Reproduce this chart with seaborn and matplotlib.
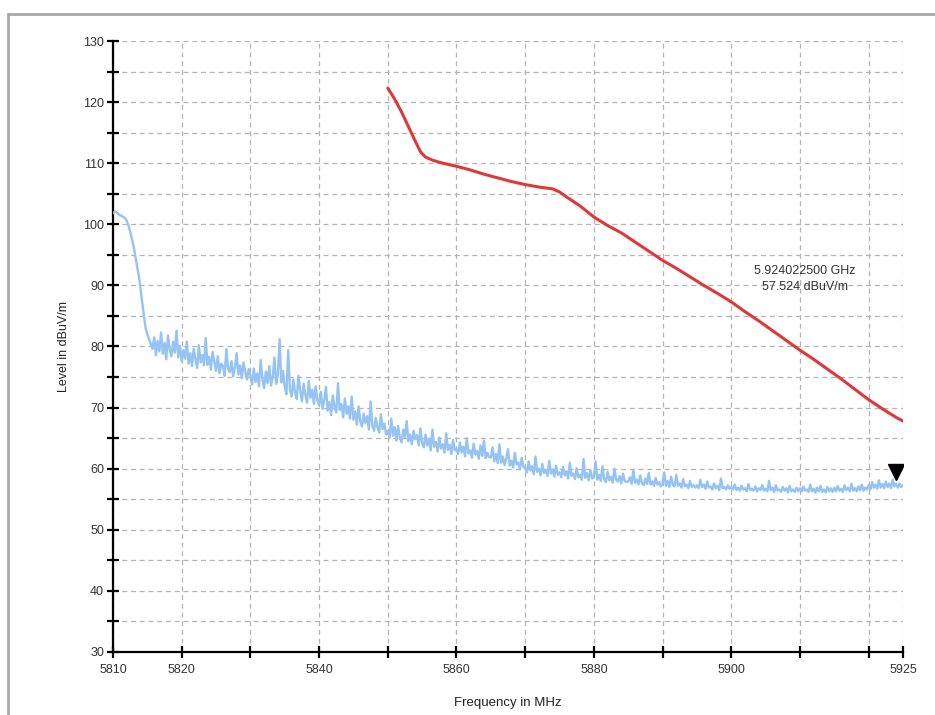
import numpy as np
import pandas as pd
import matplotlib
matplotlib.use("Agg")
import matplotlib.pyplot as plt
import seaborn as sns
from matplotlib.patches import Rectangle
from matplotlib.ticker import FixedLocator, MultipleLocator

# ---------------- data ----------------
BLUE_START_MHZ = 5810.0
BLUE_STEP_MHZ = 0.25
blue_level = [
    101.8, 102.1, 102.0, 101.7, 101.5, 101.4, 101.2, 101.0, 100.6, 99.8, 98.8, 97.6, 96.4, 94.8, 93.2, 91.6, 89.5, 87.2, 85.0, 83.0,
    82.0, 81.2, 80.4, 79.6, 81.5, 78.6, 80.9, 79.2, 82.3, 78.8, 80.6, 77.9, 81.8, 79.5, 78.4, 80.8, 79.0, 82.6, 78.2, 80.1,
    77.6, 79.4, 78.0, 80.8, 77.2, 78.9, 76.8, 79.6, 77.9, 76.5, 80.2, 77.4, 78.6, 76.9, 81.4, 77.0, 78.3, 76.2, 79.1, 77.5,
    76.0, 78.4, 75.6, 77.2, 76.8, 75.2, 79.6, 76.4, 75.8, 77.6, 75.1, 76.6, 78.9, 75.4, 76.9, 74.8, 77.4, 75.9, 74.6, 76.3,
    75.2, 73.8, 76.4, 74.2, 75.6, 73.5, 77.8, 74.6, 73.2, 75.9, 74.0, 76.8, 73.6, 74.9, 78.2, 73.9, 75.4, 81.2, 74.1, 76.0,
    73.4, 72.2, 79.4, 73.0, 71.8, 74.6, 72.5, 71.4, 75.2, 72.8, 71.0, 73.9, 72.1, 70.8, 74.4, 71.6, 72.9, 70.6, 73.5, 71.2,
    70.4, 72.6, 69.8, 71.2, 73.4, 69.5, 70.9, 68.8, 72.0, 70.1, 69.2, 74.0, 69.6, 70.6, 68.4, 71.5, 69.0, 70.2, 68.2, 71.8,
    68.0, 69.4, 67.2, 70.2, 67.8, 66.9, 69.0, 67.5, 68.6, 66.4, 71.0, 67.0, 66.2, 68.3, 66.8, 65.9, 68.9, 66.5, 67.4, 65.6,
    66.2, 65.0, 68.2, 65.4, 66.8, 64.6, 67.0, 65.1, 64.3, 66.4, 65.2, 67.8, 64.5, 65.6, 64.0, 66.2, 64.8, 65.5, 63.8, 66.6,
    64.2, 63.5, 65.6, 63.8, 64.9, 63.0, 66.4, 63.6, 64.4, 62.8, 65.1, 63.3, 64.0, 62.6, 65.8, 63.1, 63.9, 62.4, 64.7, 63.0,
    63.2, 62.4, 64.3, 62.7, 63.6, 62.0, 65.0, 62.5, 63.0, 61.8, 64.1, 62.3, 62.9, 61.6, 63.8, 62.1, 64.6, 61.7, 62.6, 61.9,
    61.8, 63.5, 61.2, 62.4, 60.9, 64.0, 61.0, 62.0, 60.6, 61.7, 63.2, 60.5, 61.3, 60.2, 62.6, 60.7, 61.0, 59.9, 61.8, 60.3,
    60.1, 59.4, 61.2, 59.7, 60.4, 59.1, 62.0, 59.5, 60.0, 58.9, 60.8, 59.3, 59.8, 58.8, 61.3, 59.2, 59.9, 58.7, 60.5, 59.0,
    59.4, 58.6, 60.3, 58.9, 59.6, 58.4, 61.0, 58.8, 59.2, 58.3, 60.1, 58.6, 59.0, 58.2, 61.6, 58.5, 59.3, 58.1, 59.8, 58.4,
    58.6, 61.2, 58.2, 59.0, 58.0, 60.4, 58.3, 57.8, 59.5, 58.1, 58.7, 57.7, 60.0, 58.2, 57.9, 58.8, 57.6, 59.2, 58.0, 57.8,
    57.9, 58.6, 57.5, 59.8, 57.7, 58.2, 57.4, 58.9, 57.6, 57.3, 58.4, 57.5, 59.3, 57.4, 57.9, 57.2, 58.5, 57.4, 57.8, 57.1,
    57.6, 59.4, 57.2, 58.0, 57.0, 58.7, 57.3, 57.1, 59.0, 57.2, 57.6, 56.9, 58.3, 57.1, 57.4, 56.8, 58.0, 57.0, 57.3, 56.9,
    57.3, 56.8, 58.2, 57.0, 57.4, 56.7, 57.9, 56.9, 57.1, 56.6, 57.6, 56.8, 57.2, 56.5, 58.4, 56.8, 57.0, 56.6, 57.3, 56.7,
    57.0, 56.6, 57.4, 56.5, 56.9, 56.4, 57.2, 56.6, 56.8, 56.3, 57.5, 56.5, 56.7, 56.4, 57.1, 56.3, 56.8, 56.5, 57.3, 56.4,
    56.7, 56.3, 58.0, 56.5, 56.9, 56.2, 57.3, 56.4, 56.6, 56.2, 57.0, 56.4, 56.8, 56.1, 57.2, 56.3, 56.6, 56.2, 56.9, 56.3,
    56.8, 56.3, 57.1, 56.4, 56.6, 56.2, 57.4, 56.3, 56.7, 56.1, 56.9, 56.3, 57.2, 56.2, 56.6, 56.1, 57.0, 56.3, 56.8, 56.2,
    56.9, 56.3, 57.2, 56.4, 56.7, 56.2, 57.3, 56.5, 56.9, 56.3, 57.5, 56.4, 56.8, 56.3, 57.1, 56.5, 57.4, 56.4, 56.9, 56.6,
    57.3, 56.6, 57.8, 56.9, 57.4, 56.7, 58.1, 56.9, 57.5, 56.8, 57.9, 57.0, 57.6, 56.8, 58.2, 57.1, 57.524, 56.9, 57.6, 57.0, 57.3,
]

limit_freq = [5850, 5851, 5852, 5853, 5854, 5854.8, 5855.5, 5856.5, 5858, 5860, 5862, 5864, 5866,
              5868, 5870, 5872, 5874, 5875, 5876, 5878, 5880, 5882, 5884, 5886, 5888, 5890,
              5892, 5894, 5896, 5898, 5900, 5902, 5904, 5906, 5908, 5910, 5912, 5914, 5916,
              5918, 5920, 5922, 5924, 5925]
limit_level = [122.3, 120.5, 118.4, 116.0, 113.6, 111.8, 111.0, 110.5, 110.0, 109.5, 108.9, 108.2, 107.6,
               107.0, 106.5, 106.1, 105.8, 105.3, 104.5, 103.0, 101.2, 99.8, 98.6, 97.1, 95.6, 94.1,
               92.8, 91.4, 90.0, 88.7, 87.3, 85.7, 84.2, 82.6, 81.0, 79.4, 77.9, 76.3, 74.7,
               73.0, 71.3, 69.8, 68.4, 67.8]

marker_freq = 5924.0225
marker_level = 57.524
marker_text = "5.924022500 GHz\n57.524 dBuV/m"

x_ticks = [5810, 5820, 5830, 5840, 5850, 5860, 5870, 5880, 5890, 5900, 5910, 5920, 5925]
x_tick_labels = ["5810", "5820", "", "5840", "", "5860", "", "5880", "", "5900", "", "", "5925"]
y_major = [30, 40, 50, 60, 70, 80, 90, 100, 110, 120, 130]

# ---------------- plot ----------------
sns.set_style("white")
plt.rcParams["font.family"] = ["Liberation Sans", "DejaVu Sans"]

fig = plt.figure(figsize=(9.35, 7.15), dpi=100)
ax = fig.add_axes([113 / 935, 1 - 652 / 715, (903 - 113) / 935, (652 - 41) / 715])

blue_freq = BLUE_START_MHZ + BLUE_STEP_MHZ * np.arange(len(blue_level))
df_blue = pd.DataFrame({"freq": blue_freq, "level": blue_level})
df_red = pd.DataFrame({"freq": limit_freq, "level": limit_level})

sns.lineplot(data=df_blue, x="freq", y="level", ax=ax, color="#94c3f4",
             linewidth=1.7, estimator=None, sort=False, zorder=3)
sns.lineplot(data=df_red, x="freq", y="level", ax=ax, color="#e0383a",
             linewidth=2.2, estimator=None, sort=False, zorder=4)

ax.plot([marker_freq], [marker_level + 1.9], marker="v", color="black",
        markersize=11, linestyle="none", zorder=5)
ax.text(5910.7, 91.0, marker_text, ha="center", va="center", fontsize=9,
        color="#333333", linespacing=1.45, zorder=6)

ax.set_xlim(5810, 5925)
ax.set_ylim(30, 130)
ax.xaxis.set_major_locator(FixedLocator(x_ticks))
ax.set_xticklabels(x_tick_labels)
ax.yaxis.set_major_locator(FixedLocator(y_major))
ax.yaxis.set_minor_locator(MultipleLocator(5))

ax.grid(True, which="both", axis="y", color="#b4b4b4", linestyle=(0, (4, 3)), linewidth=0.9)
ax.grid(True, which="major", axis="x", color="#b4b4b4", linestyle=(0, (4, 3)), linewidth=0.9)
ax.set_axisbelow(True)

for side in ["top", "right"]:
    ax.spines[side].set_visible(False)
for side in ["left", "bottom"]:
    ax.spines[side].set_color("black")
    ax.spines[side].set_linewidth(1.6)

ax.tick_params(axis="both", which="both", direction="inout", length=9, width=1.6,
               color="black", labelsize=9, labelcolor="#333333", pad=2, left=True, bottom=True)
ax.tick_params(axis="x", pad=4)

ax.set_xlabel("Frequency in MHz", fontsize=9.5, color="#222222", labelpad=15)
ax.set_ylabel("Level in dBuV/m", fontsize=9, color="#222222", labelpad=9)

# outer frame
fig.patches.append(Rectangle((8 / 935, -0.05), 1.2, 1 - 14 / 715 + 0.05,
                             transform=fig.transFigure, fill=False,
                             edgecolor="#a8a8a8", linewidth=2.0, zorder=0))

fig.savefig("out.png", dpi=100, facecolor="white")
